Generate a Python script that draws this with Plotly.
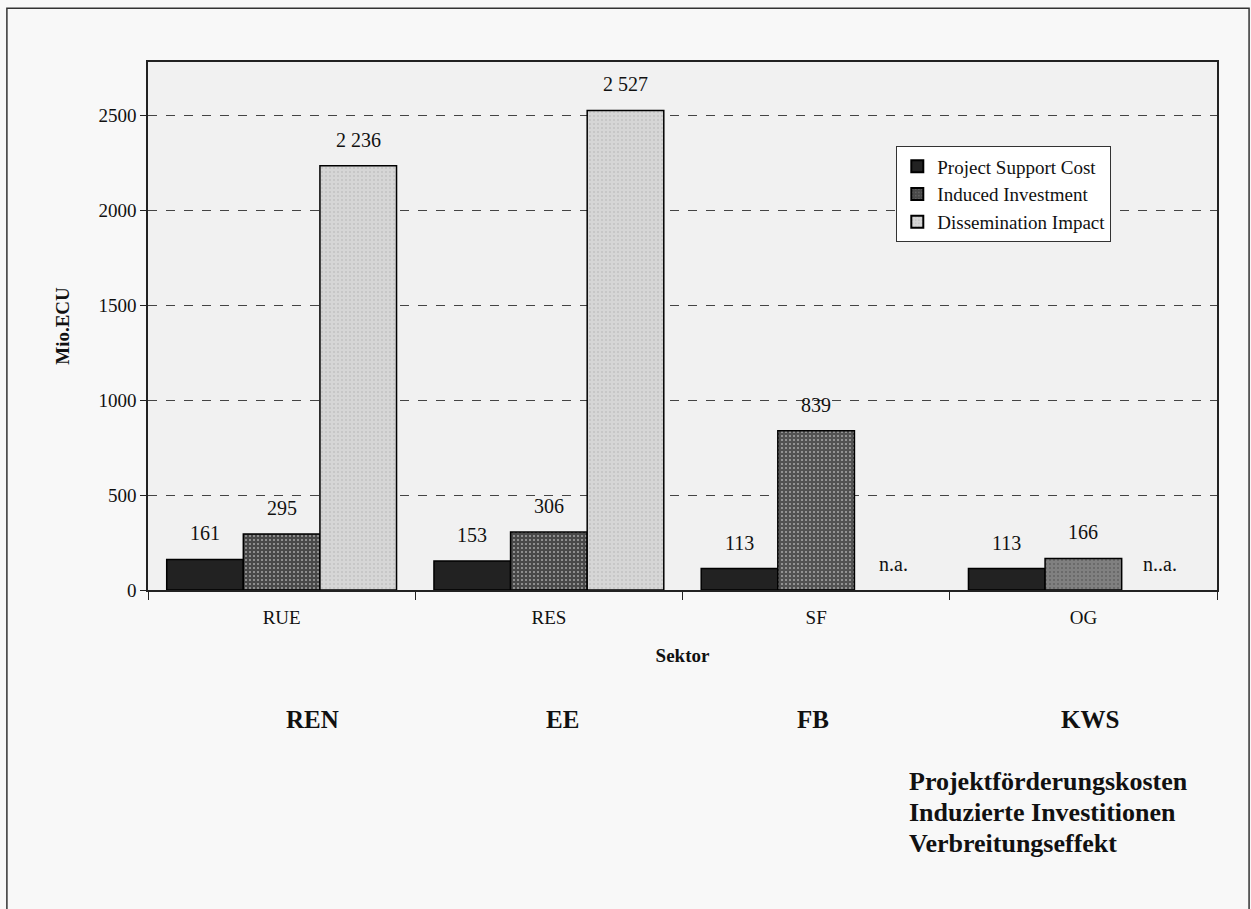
import plotly.graph_objects as go

sectors = ["RUE", "RES", "SF", "OG"]
series_names = ["Project Support Cost", "Induced Investment", "Dissemination Impact"]
project_support = [161, 153, 113, 113]
induced_investment = [295, 306, 839, 166]
dissemination = [2236, 2527, None, None]
label_support = ["161", "153", "113", "113"]
label_induced = ["295", "306", "839", "166"]
label_dissem = ["2 236", "2 527", "n.a.", "n..a."]
german_sectors = ["REN", "EE", "FB", "KWS"]
german_legend = ["Projektförderungskosten", "Induzierte Investitionen", "Verbreitungseffekt"]
y_ticks = [0, 500, 1000, 1500, 2000, 2500]

SERIF = "Liberation Serif"

fig = go.Figure()
fig.add_trace(go.Bar(
    x=sectors, y=project_support, name=series_names[0],
    marker=dict(color="#222222", line=dict(color="#000000", width=1.5)),
))
fig.add_trace(go.Bar(
    x=sectors, y=induced_investment, name=series_names[1],
    marker=dict(color=["#484848", "#484848", "#525252", "#808080"],
                line=dict(color="#000000", width=1.5),
                pattern=dict(shape=".", fgcolor="#8a8a8a", size=4, solidity=0.2)),
))
fig.add_trace(go.Bar(
    x=sectors, y=dissemination, name=series_names[2],
    marker=dict(color="#d6d6d6", line=dict(color="#000000", width=1.5),
                pattern=dict(shape=".", fgcolor="#b0b0b0", size=4, solidity=0.2)),
))

# value labels above bars
bar_px = 77
annotations = []
for si, (vals, labs) in enumerate([(project_support, label_support),
                                   (induced_investment, label_induced),
                                   (dissemination, label_dissem)]):
    for cat, v, lab in zip(sectors, vals, labs):
        annotations.append(dict(
            x=cat, y=v if v is not None else 0, xref="x", yref="y",
            text=lab, showarrow=False, xshift=(si - 1) * bar_px,
            xanchor="center", yanchor="bottom", yshift=13,
            font=dict(family=SERIF, size=20, color="#111111"),
        ))

# German sector names below the chart
for lab, xp in zip(german_sectors, [0.154, 0.388, 0.622, 0.881]):
    annotations.append(dict(
        x=xp, y=-0.246, xref="paper", yref="paper", text="<b>%s</b>" % lab,
        showarrow=False, xanchor="center", yanchor="middle",
        font=dict(family=SERIF, size=25, color="#111111"),
    ))

# German legend text block
for i, lab in enumerate(german_legend):
    annotations.append(dict(
        x=0.710, y=-0.363 - i * 0.059, xref="paper", yref="paper",
        text="<b>%s</b>" % lab, showarrow=False, xanchor="left", yanchor="middle",
        font=dict(family=SERIF, size=26, color="#111111"),
    ))

fig.update_layout(
    width=1251, height=909,
    margin=dict(l=148, r=34, t=62, b=319),
    paper_bgcolor="#f8f8f8", plot_bgcolor="#f1f1f1",
    barmode="group", bargap=0.14, bargroupgap=0,
    font=dict(family=SERIF, size=19, color="#111111"),
    showlegend=True,
    legend=dict(
        x=0.700, y=0.840, xanchor="left", yanchor="top",
        bgcolor="#ffffff", bordercolor="#333333", borderwidth=1,
        font=dict(family=SERIF, size=19, color="#111111"),
        tracegroupgap=2, itemsizing="constant", itemwidth=30,
    ),
    annotations=annotations,
    shapes=[dict(type="rect", xref="paper", yref="paper",
                 x0=-0.132, x1=1.03, y0=-0.62, y1=1.102,
                 line=dict(color="#333333", width=1.5), fillcolor="rgba(0,0,0,0)",
                 layer="below")],
)
fig.update_xaxes(
    showline=True, linecolor="#222222", linewidth=1.5, mirror=True,
    ticks="outside", tickson="boundaries", ticklen=8, tickcolor="#222222",
    tickfont=dict(family=SERIF, size=19), ticklabelstandoff=9,
    title=dict(text="<b>Sektor</b>", font=dict(family=SERIF, size=19), standoff=22),
    showgrid=False,
)
fig.update_yaxes(
    range=[0, 2782], tickvals=y_ticks,
    showline=True, linecolor="#222222", linewidth=1.5, mirror=True,
    ticks="outside", ticklen=6, tickcolor="#222222",
    tickfont=dict(family=SERIF, size=19),
    showgrid=True, gridcolor="#444444", griddash="dash", gridwidth=1,
    zeroline=False,
    title=dict(text="<b>Mio.ECU</b>", font=dict(family=SERIF, size=19), standoff=24),
)

fig.write_html("out.html")
